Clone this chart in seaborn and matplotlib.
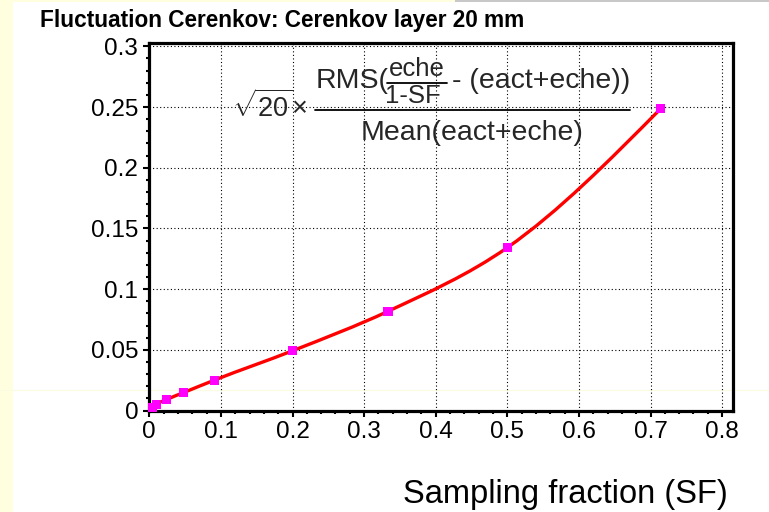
import numpy as np
import pandas as pd
import matplotlib
matplotlib.use("Agg")
import matplotlib.pyplot as plt
from matplotlib.lines import Line2D
from matplotlib.patches import Rectangle, PathPatch
from matplotlib.path import Path
from matplotlib.ticker import MultipleLocator, FixedLocator, FixedFormatter
import seaborn as sns

# Measured fluctuation vs. sampling fraction (Cerenkov layer 20 mm)
sampling_fraction = [0.005, 0.0099, 0.0244, 0.0476, 0.0909, 0.2, 0.3333, 0.5, 0.7143]
fluctuation = [0.0025, 0.0050, 0.0091, 0.0147, 0.0250, 0.0492, 0.0817, 0.1342, 0.2487]

x_ticks = [0, 0.1, 0.2, 0.3, 0.4, 0.5, 0.6, 0.7, 0.8]
x_tick_labels = ["0", "0.1", "0.2", "0.3", "0.4", "0.5", "0.6", "0.7", "0.8"]
y_ticks = [0, 0.05, 0.1, 0.15, 0.2, 0.25, 0.3]
y_tick_labels = ["0", "0.05", "0.1", "0.15", "0.2", "0.25", "0.3"]

title = "Fluctuation Cerenkov: Cerenkov layer 20 mm"
x_label = "Sampling fraction (SF)"

df = pd.DataFrame({"SF": sampling_fraction, "fluct": fluctuation})

sns.set_theme(style="white")
plt.rcParams["font.family"] = ["Liberation Sans", "DejaVu Sans"]
plt.rcParams["mathtext.fontset"] = "custom"
plt.rcParams["mathtext.rm"] = "Liberation Sans"
plt.rcParams["mathtext.it"] = "Liberation Sans"
plt.rcParams["mathtext.bf"] = "Liberation Sans:bold"

W, H = 769, 512
fig = plt.figure(figsize=(W / 100, H / 100), dpi=100)
fig.patch.set_facecolor("white")


def fx(x):
    return x / W


def fy(y):
    return 1 - y / H


# canvas decorations
fig.add_artist(Rectangle((0, 0), fx(13), 1, transform=fig.transFigure,
                         facecolor="#ffffe0", edgecolor="none", zorder=-2))
fig.add_artist(Rectangle((0, fy(2)), fx(455), 2 / H, transform=fig.transFigure,
                         facecolor="#ffffe0", edgecolor="none", zorder=-2))
fig.add_artist(Rectangle((fx(455), fy(2)), 1 - fx(455), 2 / H, transform=fig.transFigure,
                         facecolor="#c8c8c8", edgecolor="none", zorder=-2))
fig.add_artist(Line2D([0, 1], [fy(390), fy(390)], transform=fig.transFigure,
                      color="#fbfbe0", lw=0.8, zorder=-2))

ax = fig.add_axes([fx(149.3), fy(410.5), (732.7 - 149.3) / W, (410.5 - 42.7) / H])
ax.set_facecolor("none")


def smooth_path(xs, ys):
    """Cubic Bezier path passing through every data point (Hermite tangents)."""
    xs = np.asarray(xs, float)
    ys = np.asarray(ys, float)
    h = np.diff(xs)
    d = np.diff(ys) / h
    m = np.empty_like(xs)
    m[1:-1] = (d[:-1] * h[1:] + d[1:] * h[:-1]) / (h[:-1] + h[1:])
    m[0] = 1.5 * d[0] - 0.5 * m[1]
    m[-1] = 1.5 * d[-1] - 0.5 * m[-2]
    verts = [(xs[0], ys[0])]
    codes = [Path.MOVETO]
    for i in range(len(xs) - 1):
        verts += [(xs[i] + h[i] / 3, ys[i] + m[i] * h[i] / 3),
                  (xs[i + 1] - h[i] / 3, ys[i + 1] - m[i + 1] * h[i] / 3),
                  (xs[i + 1], ys[i + 1])]
        codes += [Path.CURVE4] * 3
    return Path(verts, codes)


ax.add_patch(PathPatch(smooth_path(df["SF"], df["fluct"]), transform=ax.transData,
                       facecolor="none", edgecolor="#ff0000", linewidth=2.4,
                       capstyle="round", joinstyle="round", zorder=3))
sns.scatterplot(data=df, x="SF", y="fluct", ax=ax, marker="s", color="#ff00ff",
                s=44, edgecolor="none", linewidth=0, zorder=4, clip_on=False)

ax.set_xlim(0, 0.8148)
ax.set_ylim(0, 0.3030)

ax.xaxis.set_major_locator(FixedLocator(x_ticks))
ax.xaxis.set_major_formatter(FixedFormatter(x_tick_labels))
ax.yaxis.set_major_locator(FixedLocator(y_ticks))
ax.yaxis.set_major_formatter(FixedFormatter(y_tick_labels))
ax.xaxis.set_minor_locator(MultipleLocator(0.02))
ax.yaxis.set_minor_locator(MultipleLocator(0.01))

ax.grid(True, which="major", color="black", linestyle=(0, (1, 2.2)), linewidth=0.8)
ax.set_axisbelow(True)

for side in ["left", "bottom", "top", "right"]:
    ax.spines[side].set_visible(True)
    ax.spines[side].set_color("black")
    ax.spines[side].set_linewidth(2.3)

ax.tick_params(axis="both", which="both", direction="out", color="black",
               bottom=True, left=True, top=False, right=False)
ax.tick_params(axis="both", which="major", length=4.5, width=1.5, labelsize=17.5,
               labelcolor="black")
ax.tick_params(axis="both", which="minor", length=2.3, width=1.5)
ax.tick_params(axis="y", which="major", pad=3.5)
ax.tick_params(axis="x", which="major", pad=3)

ax.set_xlabel("")
ax.set_ylabel("")

# title and axis label
fig.text(fx(40), fy(26.5), title, fontsize=16.3, fontweight="bold",
         ha="left", va="baseline", color="black")
fig.text(fx(728), fy(503), x_label, fontsize=23.5, ha="right", va="baseline",
         color="black")

# formula annotation
fs_main = 20.5
fs_inner = 18.5
fig.text(fx(307), fy(117), r"$\sqrt{20}{\times}$", fontsize=19.5, ha="right", va="baseline")

fig.text(fx(316), fy(87.5), "RMS(", fontsize=fs_main, ha="left", va="baseline")
fig.text(fx(417), fy(76), "eche", fontsize=fs_inner, ha="center", va="baseline")
fig.text(fx(413), fy(103.3), "1-SF", fontsize=fs_inner, ha="center", va="baseline")
fig.add_artist(Line2D([fx(387), fx(447)], [fy(82.5), fy(82.5)], transform=fig.transFigure,
                      color="black", lw=1.3))
fig.text(fx(630), fy(87.5), "- (eact+eche))", fontsize=fs_main, ha="right", va="baseline")
fig.add_artist(Line2D([fx(315), fx(630)], [fy(109.5), fy(109.5)], transform=fig.transFigure,
                      color="black", lw=1.3))
fig.text(fx(472), fy(140), "Mean(eact+eche)", fontsize=fs_main, ha="center", va="baseline")

fig.savefig("out.png", dpi=100, facecolor=fig.get_facecolor())
